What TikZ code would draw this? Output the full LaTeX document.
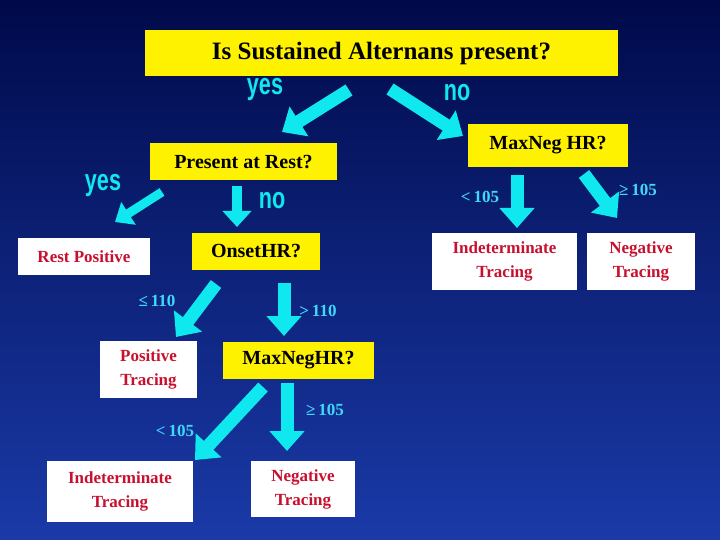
\documentclass[tikz,border=0pt]{standalone}
\usepackage{fontspec}
\setmainfont{Liberation Serif}
\newfontfamily\cond[FakeStretch=0.72]{Liberation Sans}
\usetikzlibrary{arrows.meta}
\definecolor{bgtop}{HTML}{000A4A}
\definecolor{bgbot}{HTML}{1A3AA8}
\definecolor{cy}{HTML}{10E8F0}
\definecolor{lab}{HTML}{40D8F8}
\definecolor{rd}{HTML}{C8102E}
\tikzset{
 qbox/.style={fill=yellow,draw=none,font=\bfseries\fontsize{20}{22}\selectfont,text=black,inner sep=0pt},
 rbox/.style={fill=white,draw=none,font=\bfseries\fontsize{17}{24}\selectfont,text=rd,align=center,inner sep=0pt},
 yn/.style={text=cy,font=\cond\bfseries\fontsize{30}{30}\selectfont},
 num/.style={text=lab,font=\bfseries\fontsize{17}{17}\selectfont},
 arr/.style={draw=cy,line width=13pt,-{Triangle[length=20pt,width=34pt]}},
}
\begin{document}
\begin{tikzpicture}[x=1pt,y=-1pt]
\shade[top color=bgtop,bottom color=bgbot] (0,0) rectangle (720,540);
\useasboundingbox (0,0) rectangle (720,540);
\node[qbox,minimum width=473pt,minimum height=46pt,font=\bfseries\fontsize{25}{27}\selectfont] (t) at (381.5,53) {Is Sustained Alternans present?};
\node[qbox,minimum width=187pt,minimum height=37pt] (pr) at (243.5,162) {Present at Rest?};
\node[qbox,minimum width=160pt,minimum height=43pt] (mn1) at (548,145.5) {MaxNeg HR?};
\node[qbox,minimum width=128pt,minimum height=37pt] (on) at (256,251.5) {OnsetHR?};
\node[qbox,minimum width=151pt,minimum height=37pt] (mn2) at (298.5,360) {MaxNegHR?};
\node[rbox,minimum width=132pt,minimum height=37pt] (rp) at (84,256.5) {Rest Positive};
\node[rbox,minimum width=145pt,minimum height=57pt] (ir) at (504.5,261.5) {Indeterminate\\Tracing};
\node[rbox,minimum width=108pt,minimum height=57pt] (nr) at (641,261.5) {Negative\\Tracing};
\node[rbox,minimum width=97pt,minimum height=57pt] (pt) at (148.5,369.5) {Positive\\Tracing};
\node[rbox,minimum width=146pt,minimum height=61pt] (ib) at (120,491.5) {Indeterminate\\Tracing};
\node[rbox,minimum width=104pt,minimum height=56pt] (nb) at (303,489) {Negative\\Tracing};
\node[yn] (y1) at (265,90) {yes};
\node[yn] (n1) at (457,93) {no};
\node[yn] (y2) at (103,186) {yes};
\node[yn] (n2) at (272,201) {no};
\node[num] (l1) at (480,197) {<\,105};
\node[num] (l2) at (638,190) {≥\,105};
\node[num] (l3) at (157,301) {≤\,110};
\node[num] (l4) at (318,311) {>\,110};
\node[num] (l5) at (325,410) {≥\,105};
\node[num] (l6) at (175,431) {<\,105};
\coordinate (a1s) at (349,90); \coordinate (a1e) at (282,132);
\coordinate (a2s) at (390,89); \coordinate (a2e) at (463,136);
\coordinate (a3s) at (162,192); \coordinate (a3e) at (115,222);
\coordinate (a4s) at (237,186); \coordinate (a4e) at (237,227);
\coordinate (a5s) at (216,284); \coordinate (a5e) at (176,337);
\coordinate (a6s) at (284,283); \coordinate (a6e) at (284,336);
\coordinate (a7s) at (263,387); \coordinate (a7e) at (195,460);
\coordinate (a8s) at (287,383); \coordinate (a8e) at (287,451);
\coordinate (a9s) at (517,175); \coordinate (a9e) at (517,228);
\coordinate (a10s) at (584,174); \coordinate (a10e) at (617,218);
\draw[arr] (a1s) -- (a1e);
\draw[arr] (a2s) -- (a2e);
\draw[arr,line width=9pt,-{Triangle[length=16pt,width=26pt]}] (a3s) -- (a3e);
\draw[arr,line width=10pt,-{Triangle[length=16pt,width=28pt]}] (a4s) -- (a4e);
\draw[arr] (a5s) -- (a5e);
\draw[arr] (a6s) -- (a6e);
\draw[arr] (a7s) -- (a7e);
\draw[arr] (a8s) -- (a8e);
\draw[arr] (a9s) -- (a9e);
\draw[arr] (a10s) -- (a10e);
\end{tikzpicture}
\end{document}
